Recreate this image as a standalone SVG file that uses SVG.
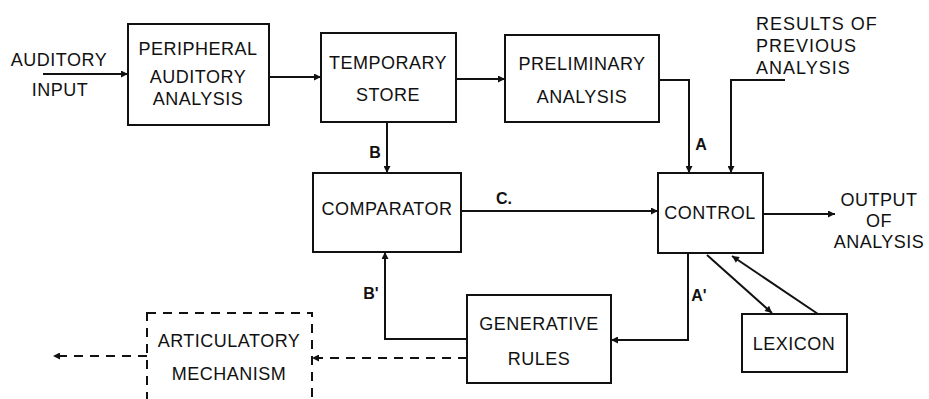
<svg xmlns="http://www.w3.org/2000/svg" width="929" height="399" viewBox="0 0 929 399">
<style>
.box{fill:#fff;stroke:#111;stroke-width:2}
.dbox{fill:none;stroke:#111;stroke-width:2;stroke-dasharray:9 7}
.t{font-family:"Liberation Sans",Arial,sans-serif;font-size:18px;fill:#111;text-anchor:middle;letter-spacing:0.5px}
.tl{font-family:"Liberation Sans",Arial,sans-serif;font-size:18px;fill:#111;letter-spacing:1px}
.lab{font-family:"Liberation Sans",Arial,sans-serif;font-size:16px;font-weight:bold;fill:#111;text-anchor:middle}
.c{fill:none;stroke:#111;stroke-width:2}
.cd{fill:none;stroke:#111;stroke-width:2;stroke-dasharray:9 7}
</style>
<defs>
<marker id="arr" viewBox="0 0 10 10" refX="10" refY="5" markerWidth="9" markerHeight="7" markerUnits="userSpaceOnUse" orient="auto">
<path d="M0,0 L10,5 L0,10 z" fill="#111"/>
</marker>
</defs>
<rect width="929" height="399" fill="#fff"/>
<g id="connectors">
<path class="c" d="M43,74 L128,74" marker-end="url(#arr)"/>
<path class="c" d="M269,77 L321,77" marker-end="url(#arr)"/>
<path class="c" d="M456,79 L505,79" marker-end="url(#arr)"/>
<path class="c" d="M659,80 L689,80 L689,173" marker-end="url(#arr)"/>
<path class="c" d="M785,80 L731,80 L731,173" marker-end="url(#arr)"/>
<path class="c" d="M763,214 L835,214" marker-end="url(#arr)"/>
<path class="c" d="M387,122 L387,173" marker-end="url(#arr)"/>
<path class="c" d="M461,211 L658,211" marker-end="url(#arr)"/>
<path class="c" d="M688,253 L688,340 L611,340" marker-end="url(#arr)"/>
<path class="c" d="M467,339 L385,339 L385,252" marker-end="url(#arr)"/>
<path class="c" d="M707,255 L772,313" marker-end="url(#arr)"/>
<path class="c" d="M818,314 L732,256" marker-end="url(#arr)"/>
<path class="cd" d="M467,358 L312,358" marker-end="url(#arr)"/>
<path class="cd" d="M147,356 L53,356" marker-end="url(#arr)"/>
<text class="lab" x="701" y="150">A</text>
<text class="lab" x="375" y="158">B</text>
<text class="lab" x="504" y="204">C.</text>
<text class="lab" x="699" y="301">A'</text>
<text class="lab" x="371" y="299">B'</text>
</g>
<g id="auditory-input">
<text class="t" x="59" y="66">AUDITORY</text>
<text class="t" x="60" y="96">INPUT</text>
</g>
<g id="peripheral">
<rect class="box" x="128" y="24" width="141" height="101"/>
<text class="t" x="198" y="55">PERIPHERAL</text>
<text class="t" x="198" y="83">AUDITORY</text>
<text class="t" x="198" y="105">ANALYSIS</text>
</g>
<g id="temporary-store">
<rect class="box" x="321" y="33" width="135" height="89"/>
<text class="t" x="388" y="69">TEMPORARY</text>
<text class="t" x="388" y="101">STORE</text>
</g>
<g id="preliminary">
<rect class="box" x="505" y="35" width="154" height="87"/>
<text class="t" x="582" y="70">PRELIMINARY</text>
<text class="t" x="582" y="103">ANALYSIS</text>
</g>
<g id="results">
<text class="tl" x="756" y="30">RESULTS OF</text>
<text class="tl" x="756" y="52">PREVIOUS</text>
<text class="tl" x="756" y="74">ANALYSIS</text>
</g>
<g id="comparator">
<rect class="box" x="313" y="173" width="148" height="79"/>
<text class="t" x="387" y="215">COMPARATOR</text>
</g>
<g id="control">
<rect class="box" x="658" y="173" width="105" height="80"/>
<text class="t" x="710" y="219">CONTROL</text>
</g>
<g id="output">
<text class="t" x="879" y="206">OUTPUT</text>
<text class="t" x="879" y="227">OF</text>
<text class="t" x="879" y="248">ANALYSIS</text>
</g>
<g id="generative">
<rect class="box" x="467" y="295" width="144" height="88"/>
<text class="t" x="539" y="330">GENERATIVE</text>
<text class="t" x="539" y="365">RULES</text>
</g>
<g id="lexicon">
<rect class="box" x="742" y="314" width="105" height="58"/>
<text class="t" x="794" y="350">LEXICON</text>
</g>
<g id="articulatory">
<rect class="dbox" x="147" y="313" width="165" height="95"/>
<text class="t" x="229" y="347">ARTICULATORY</text>
<text class="t" x="229" y="380">MECHANISM</text>
</g>
</svg>
